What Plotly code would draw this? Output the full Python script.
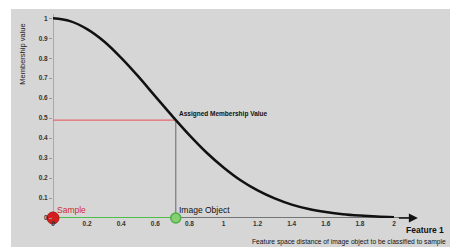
import plotly.graph_objects as go

# Membership curve
curve_x = [0.0, 0.1, 0.2, 0.3, 0.4, 0.5, 0.6, 0.7, 0.8, 0.9, 1.0, 1.1, 1.2, 1.3, 1.4, 1.5, 1.6, 1.7, 1.8, 1.9, 2.0]
curve_y = [1.0, 0.986, 0.946, 0.884, 0.802, 0.709, 0.609, 0.510, 0.415, 0.328, 0.253, 0.189, 0.138, 0.098, 0.067, 0.045, 0.030, 0.019, 0.012, 0.007, 0.004]

sample_x = 0.0
object_x = 0.72
assigned_value = 0.49
axis_end_x = 2.14

x_ticks = [0, 0.2, 0.4, 0.6, 0.8, 1, 1.2, 1.4, 1.6, 1.8, 2]
x_tick_labels = ["0", "0.2", "0.4", "0.6", "0.8", "1", "1.2", "1.4", "1.6", "1.8", "2"]
y_ticks = [0, 0.1, 0.2, 0.3, 0.4, 0.5, 0.6, 0.7, 0.8, 0.9, 1]
y_tick_labels = ["0", "0.1", "0.2", "0.3", "0.4", "0.5", "0.6", "0.7", "0.8", "0.9", "1"]

BG = "#d6d6d6"
FONT = "Liberation Sans, Arial, sans-serif"
NARROW = "Liberation Sans Narrow, Liberation Sans, Arial, sans-serif"

fig = go.Figure()

# y axis line
fig.add_trace(go.Scatter(x=[0, 0], y=[0, 1.02], mode="lines",
                         line=dict(color="#9a9a9a", width=1.5), hoverinfo="skip", cliponaxis=False))
# x axis line
fig.add_trace(go.Scatter(x=[0, axis_end_x - 0.03], y=[0, 0], mode="lines",
                         line=dict(color="#555555", width=1.5), hoverinfo="skip", cliponaxis=False))
# red horizontal line
fig.add_trace(go.Scatter(x=[0, object_x], y=[assigned_value, assigned_value], mode="lines",
                         line=dict(color="#e8676b", width=1.2), hoverinfo="skip"))
# gray vertical line
fig.add_trace(go.Scatter(x=[object_x, object_x], y=[0, assigned_value], mode="lines",
                         line=dict(color="#7a7a7a", width=1.2), hoverinfo="skip"))
# curve
fig.add_trace(go.Scatter(x=curve_x, y=curve_y, mode="lines",
                         line=dict(color="#111111", width=2.5, shape="spline"), hoverinfo="skip",
                         cliponaxis=False))
# green line
fig.add_trace(go.Scatter(x=[sample_x, object_x], y=[0, 0], mode="lines",
                         line=dict(color="#4fbf4a", width=2.2), hoverinfo="skip", cliponaxis=False))
# markers
fig.add_trace(go.Scatter(x=[object_x], y=[0], mode="markers",
                         marker=dict(color="#86cf72", size=10, line=dict(color="#4fae48", width=1.5)),
                         hoverinfo="skip", cliponaxis=False))
fig.add_trace(go.Scatter(x=[sample_x], y=[0], mode="markers",
                         marker=dict(color="#d41f1f", size=12, line=dict(color="#b01010", width=1)),
                         hoverinfo="skip", cliponaxis=False))

fig.add_shape(type="rect", xref="paper", yref="paper",
              x0=-42 / 397, x1=1.02, y0=-30 / 208, y1=1.005,
              fillcolor=BG, line=dict(width=0), layer="below")

# arrow head
fig.add_annotation(x=axis_end_x, y=0, ax=axis_end_x - 0.12, ay=0, axref="x", ayref="y",
                   xref="x", yref="y", showarrow=True, arrowhead=2, arrowsize=1.2,
                   arrowwidth=1.5, arrowcolor="#111111", text="")

fig.add_annotation(x=0.01, y=0.0, xref="x", yref="y", text="Sample", showarrow=False,
                   xanchor="left", yanchor="bottom", yshift=1,
                   font=dict(family=FONT, size=8.5, color="#d42a2a"))
fig.add_annotation(x=object_x + 0.005, y=0.0, xref="x", yref="y", text="Image Object", showarrow=False,
                   xanchor="left", yanchor="bottom", yshift=1,
                   font=dict(family=FONT, size=8.5, color="#111111"))
fig.add_annotation(x=object_x + 0.01, y=assigned_value, xref="x", yref="y",
                   text="<b>Assigned Membership Value</b>", showarrow=False,
                   xanchor="left", yanchor="bottom", yshift=0,
                   font=dict(family=FONT, size=6.5, color="#111111"))
fig.add_annotation(x=-30 / 397, y=0.79, xref="paper", yref="paper", text="Membership value",
                   textangle=-90, showarrow=False, xanchor="center", yanchor="middle",
                   font=dict(family=FONT, size=7.5, color="#222222"))
fig.add_annotation(x=1.0, y=-12 / 208, xref="paper", yref="paper", text="<b>Feature 1</b>",
                   showarrow=False, xanchor="right", yanchor="middle", xshift=-4,
                   font=dict(family=FONT, size=8.5, color="#111111"))
fig.add_annotation(x=1.0, y=-23.5 / 208, xref="paper", yref="paper",
                   text="Feature space distance of image object to be classified to sample",
                   showarrow=False, xanchor="right", yanchor="middle", xshift=-2,
                   font=dict(family=FONT, size=6.7, color="#111111"))

fig.update_layout(
    width=450, height=247,
    margin=dict(l=53, r=0, t=10, b=29, autoexpand=False),
    paper_bgcolor="white", plot_bgcolor="rgba(0,0,0,0)",
    showlegend=False,
    xaxis=dict(range=[0, 397 / 170.5], showgrid=False, zeroline=False, showline=False,
               tickvals=x_ticks, ticktext=[f"<b>{t}</b>" for t in x_tick_labels],
               ticks="", automargin=False, tickfont=dict(family=FONT, size=6.5, color="#333333")),
    yaxis=dict(range=[0, 208 / 199.7], showgrid=False, zeroline=False, showline=False,
               tickvals=y_ticks, ticktext=[f"<b>{t}</b>" for t in y_tick_labels],
               ticks="outside", ticklen=3, tickcolor="#9a9a9a", automargin=False,
               tickfont=dict(family=FONT, size=6.5, color="#333333")),
)

fig.write_html("out.html", config={"displayModeBar": False},
               post_script="document.body.style.margin='0';document.body.style.overflow='hidden';")
